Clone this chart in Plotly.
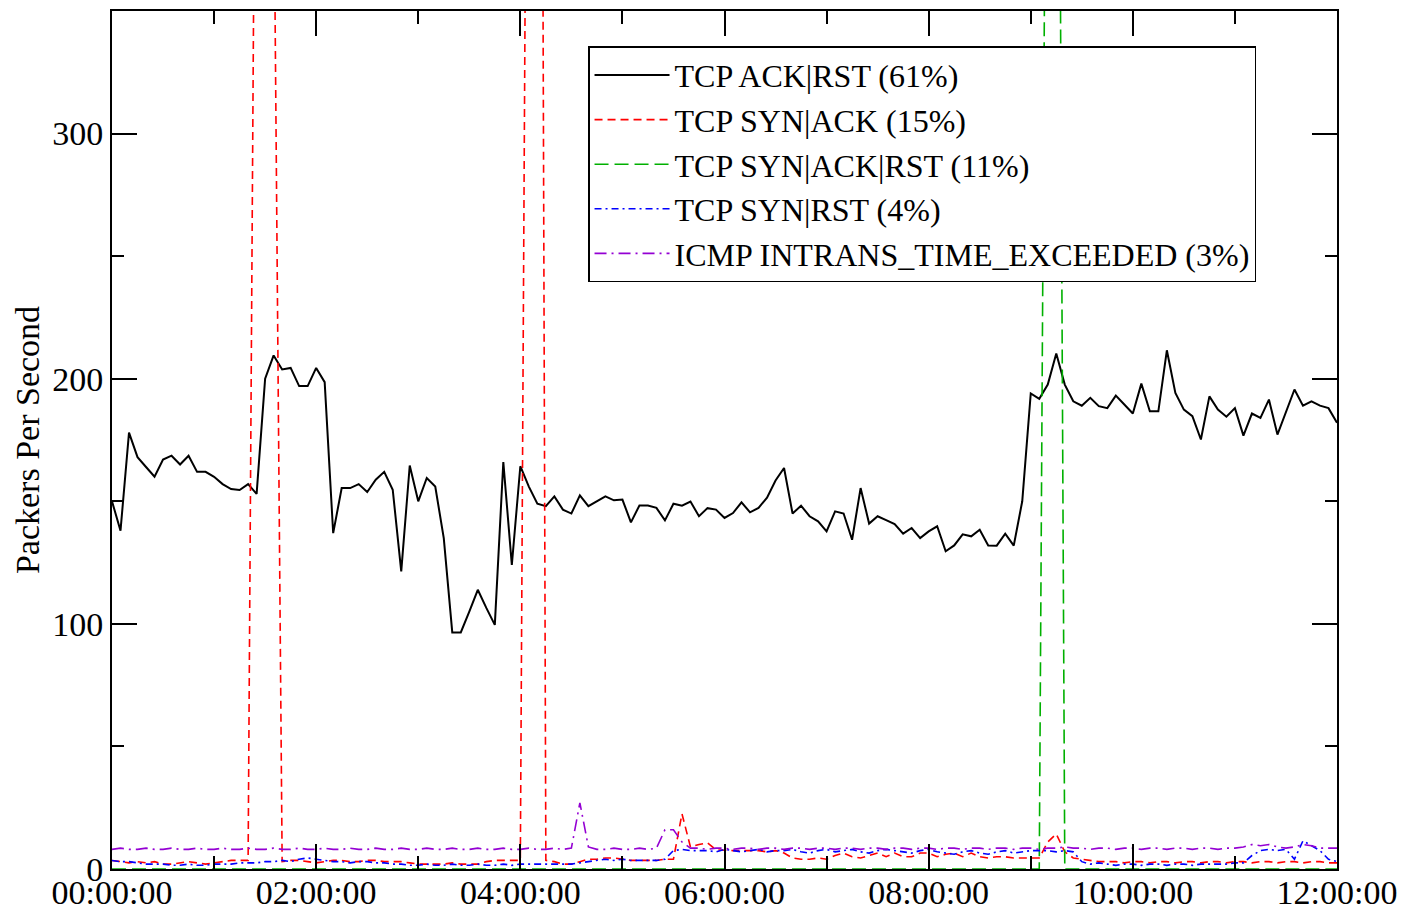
import pandas as pd
import plotly.graph_objects as go

# 5-minute samples, 00:00 .. 12:00
times = pd.date_range("2000-01-01 00:00:00", periods=145, freq="5min")

ack_rst = [150, 138, 178, 168, 164, 160, 167, 168.6, 165, 168.6,
           162, 162, 160, 157, 155, 154.6, 157, 153, 200, 209.5,
           203.8, 204.4, 197, 197, 204.4, 198.6, 137, 155.4, 155.4, 157,
           153.8, 158.8, 162, 154.7, 121.4, 164.6, 150, 159.5, 156, 135,
           96.5, 96.5, 105, 113.9, 106.5, 99.6, 166, 124, 164.3, 156,
           149, 148, 152, 146.6, 145, 152.4, 148, 150, 152, 150.4,
           150.7, 141.4, 148.3, 148.3, 147.3, 142.2, 149, 148.2, 149.9, 143.9,
           147.2, 146.6, 143.2, 145.2, 149.6, 145.5, 147.3, 151.5, 158.5, 163.6,
           145, 148.2, 143.9, 141.8, 137.7, 145.9, 145, 134.3, 155.4, 140.9,
           143.9, 142.3, 140.7, 136.8, 139.1, 135, 137.7, 139.8, 129.6, 132,
           136.5, 135.7, 138.4, 132, 131.9, 136.8, 131.9, 150, 194, 191.8,
           197.6, 210.3, 197.6, 190.8, 189, 192.2, 188.8, 188, 193.1, 189.5,
           185.8, 198, 186.7, 186.7, 211.6, 194.2, 187.4, 184.7, 175.2, 192.8,
           187.4, 184.5, 188, 176.8, 185.8, 184, 191.5, 177.2, 186.5, 195.6,
           189, 190.8, 189, 188, 182]

syn_ack = [3.5, 3, 2.5, 3, 2.5, 3, 2, 2, 2.5, 3,
           2.5, 2, 2.5, 3, 3.5, 3.5, 3.5, 545, 700, 420,
           3, 3.5, 3.5, 3, 2.5, 3, 3.5, 3.5, 3, 3,
           3.5, 3.5, 3, 3, 3, 2.5, 2, 2, 2, 2,
           2.5, 2, 2, 2, 3, 3.5, 3.5, 3.5, 3.5, 630,
           1058, 3.5, 3, 2, 2, 3, 4, 4, 4.5, 4.5,
           4, 3.5, 3.5, 3.5, 3.5, 4, 4, 22.5, 9, 10,
           10.7, 7.8, 7.5, 7.5, 7.5, 7.5, 7.5, 7, 7.5, 6.5,
           4.5, 4, 4, 4.5, 4, 5.5, 6.5, 5, 4.5, 5.5,
           6.5, 5, 6.5, 5, 5, 6.5, 6.5, 5, 6, 6.5,
           5, 6.5, 5, 4.5, 5, 5, 4.5, 4.5, 4.5, 4.5,
           11, 14.3, 7, 4.5, 4, 3.5, 3, 3, 3, 2.5,
           3, 3, 2.5, 3, 3, 2.5, 3, 3, 2.5, 3,
           3, 2.5, 3, 3, 2.5, 3, 3, 2.5, 3, 3,
           2.5, 3, 3, 2.5, 2.5]

syn_ack_rst = [0] * 110 + [583, 700, 0] + [0] * 32

syn_rst = [3.5, 3, 3, 2.5, 2, 2, 2, 1.5, 1.5, 2,
           1.5, 1.5, 2, 2, 2, 2.5, 2.5, 2.5, 3, 3,
           3.5, 3, 4, 4.5, 4, 3.5, 3, 3, 2.5, 3,
           3, 2.5, 2.5, 2, 2, 1.5, 1.5, 2, 1.5, 1.5,
           2, 1.5, 1.5, 2, 1.5, 1.5, 2, 1.5, 2, 2,
           2, 2, 2, 2, 2, 2.5, 3, 3.5, 4, 3.5,
           4, 3.5, 3.5, 3.5, 3.5, 4, 7.5, 8, 7.5, 7.5,
           7.5, 7, 8, 7.5, 7, 7.5, 8, 7, 7.5, 7.5,
           8, 7, 6.5, 7.5, 8, 7, 7.5, 8, 7, 6.5,
           7.5, 8, 7.5, 7, 6.5, 7.5, 8, 7, 6.5, 6,
           7, 7.5, 6.5, 6, 7, 7.5, 6.5, 7, 7.5, 7.5,
           7.5, 7, 7.5, 7, 3, 2, 2.5, 2, 1.5, 2,
           2, 1.5, 2, 2, 1.5, 2, 2, 1.5, 2, 2,
           2, 2, 2.5, 2.5, 5.5, 7.5, 8, 7.5, 8, 4,
           11.5, 9.5, 7.5, 4, 3]

icmp_ite = [8, 8.5, 8, 8, 8.5, 8, 8, 8.5, 8, 8,
            8.5, 8, 8, 8.5, 8, 8, 8.5, 8, 8, 8.5,
            8, 8, 8.5, 8, 8, 8.5, 8, 8, 8.5, 8,
            8, 8.5, 8, 8, 8.5, 8, 8, 8.5, 8, 8,
            8.5, 8, 8, 8.5, 8, 8, 8.5, 8, 8, 8.5,
            8, 8, 8.5, 8, 8.5, 27, 9, 8, 8, 8.5,
            8, 8, 8.5, 8, 8.5, 16, 16, 11, 8.5, 8.5,
            8, 8.5, 8.5, 8, 8.5, 8.5, 8, 8.5, 8.5, 8,
            8.5, 8.5, 8, 8.5, 8.5, 8, 8.5, 8.5, 8, 8.5,
            8.5, 8, 8.5, 8.5, 8, 8.5, 8.5, 8, 8.5, 8.5,
            8, 8.5, 8.5, 8, 8.5, 8.5, 8, 8.5, 8.5, 8,
            8.5, 8.5, 9, 8.5, 8.5, 8, 8.5, 8.5, 8, 8.5,
            8.5, 8, 8.5, 8.5, 8, 8.5, 8.5, 8, 8.5, 8.5,
            8, 8.5, 8.5, 9, 10, 9.5, 10, 9, 8.5, 9,
            10, 9.5, 8.5, 8.5, 8.5]

names = ["TCP ACK|RST (61%)", "TCP SYN|ACK (15%)", "TCP SYN|ACK|RST (11%)",
         "TCP SYN|RST (4%)", "ICMP INTRANS_TIME_EXCEEDED (3%)"]
series = [ack_rst, syn_ack, syn_ack_rst, syn_rst, icmp_ite]
colors = ["#000000", "#ff0000", "#00b000", "#0000ff", "#9400d3"]
dashes = ["solid", "8px,5px", "14px,6px", "7px,4px,2px,4px", "12px,5px,2px,5px"]
widths = [2, 1.6, 1.6, 1.6, 1.6]

font = "Liberation Serif, Times New Roman, serif"

fig = go.Figure()
for name, vals, col, dsh, w in zip(names, series, colors, dashes, widths):
    fig.add_trace(go.Scatter(x=times, y=vals, mode="lines", name=name,
                             line=dict(color=col, width=w, dash=dsh)))

fig.update_layout(
    width=1403, height=911,
    margin=dict(l=112, r=66, t=11, b=42, autoexpand=False),
    paper_bgcolor="white", plot_bgcolor="white",
    font=dict(family=font, size=34, color="black"),
    showlegend=True,
    legend=dict(x=0.3886, y=0.959, xanchor="left", yanchor="top",
                orientation="v", entrywidth=630, entrywidthmode="pixels",
                bgcolor="white", bordercolor="black", borderwidth=1.5,
                font=dict(family=font, size=32, color="black"),
                itemwidth=75, tracegroupgap=0),
)
fig.update_xaxes(
    type="date", automargin=False,
    range=["2000-01-01 00:00:00", "2000-01-01 12:00:00"],
    dtick=7200000, tick0="2000-01-01 00:00:00", tickformat="%H:%M:%S",
    showgrid=False, zeroline=False,
    showline=True, linecolor="black", linewidth=2, mirror="allticks",
    ticks="inside", ticklen=25, tickwidth=1.5, tickcolor="black",
    minor=dict(dtick=3600000, ticks="inside", ticklen=13, tickwidth=1.5,
               tickcolor="black", showgrid=False),
    tickfont=dict(family=font, size=34, color="black"),
    ticklabelstandoff=-8,
)
fig.update_yaxes(
    automargin=False,
    range=[0, 350], dtick=100, tick0=0,
    showgrid=False, zeroline=False,
    showline=True, linecolor="black", linewidth=2, mirror="allticks",
    ticks="inside", ticklen=25, tickwidth=1.5, tickcolor="black",
    minor=dict(dtick=50, ticks="inside", ticklen=12, tickwidth=1.5,
               tickcolor="black", showgrid=False),
    tickfont=dict(family=font, size=34, color="black"),
    title=dict(text="Packers Per Second", font=dict(family=font, size=34, color="black"),
               standoff=2),
)

fig.write_html("out.html")
